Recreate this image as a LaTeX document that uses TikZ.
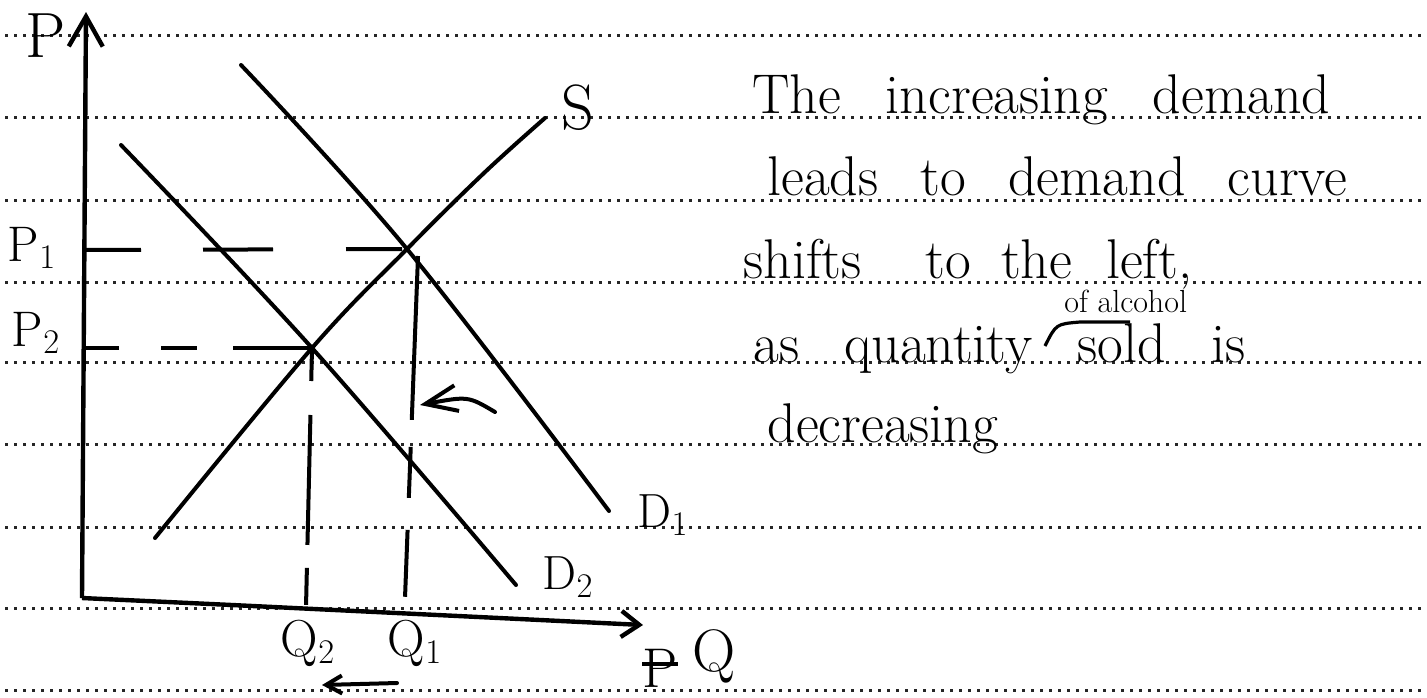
\documentclass[tikz,border=0pt]{standalone}
\usepackage{tikz}
\usetikzlibrary{positioning,arrows.meta}

\tikzset{
  ruled/.style={black!85, line width=1.5pt, dash pattern=on 1.5pt off 3pt},
  curve/.style={line width=2pt, line cap=round},
  guide/.style={line width=2pt},
  lab/.style={font=\fontsize{#1}{#1}\selectfont, inner sep=0pt},
  lab/.default=26,
  note/.style={font=\fontsize{28}{32}\selectfont, anchor=base west, inner sep=0pt},
}

\begin{document}
\begin{tikzpicture}[x=0.5pt, y=-0.5pt, >={Straight Barb[length=9pt,width=13pt]}, line join=round]
\useasboundingbox (0,0) rectangle (1427,697);

% Ruled paper
\foreach \y in {35,117,200,282,362,444,527,608,690}
  \draw[ruled] (5,\y) -- (1425,\y);

% Axes
\coordinate (O) at (82,598);
\coordinate (ptop) at (86,12);
\coordinate (qkink) at (232,605);
\coordinate (qend) at (643,625);
\draw[line width=2.2pt, ->, >={Straight Barb[length=15pt,width=17pt]}] (O) -- (ptop);
\draw[line width=2.2pt, ->] (O) -- (qkink) -- (qend);

% Equilibrium points
\coordinate (e1) at (407,249);
\coordinate (e2) at (312,348);

% Demand and supply curves
\coordinate (d1a) at (241,65);
\coordinate (d1b) at (609,511);
\coordinate (d2a) at (121,145);
\coordinate (d2b) at (516,585);
\coordinate (sa) at (155,538);
\coordinate (sm) at (484,173);
\coordinate (sb) at (545,118);
\draw[curve] plot[smooth, tension=0.6] coordinates {(d1a) (e1) (d1b)};
\draw[curve] plot[smooth, tension=0.6] coordinates {(d2a) (e2) (d2b)};
\draw[curve] plot[smooth, tension=0.6] coordinates {(sa) (e2) (e1) (sm) (sb)};

% Labels on the axes
\node[lab=32] (P) at (46,36) {P};
\node[lab=25] (P1) at (32,248) {P$_1$};
\node[lab=25] (P2) at (36,333) {P$_2$};
\node[lab=26] (Q2) at (308,643) {Q$_2$};
\node[lab=26] (Q1) at (415,643) {Q$_1$};
\node[lab=30] (Q) at (714,656) {Q};
\node[lab=28] (xP) at (660,668) {P};
\draw[line width=1.6pt] ([yshift=2pt]xP.west) -- ([yshift=2pt]xP.east);

% Curve labels
\node[lab=32] (S) at (578,108) {S};
\node[lab=24] (D1) at (663,515) {D$_1$};
\node[lab=24] (D2) at (568,577) {D$_2$};

% Dashed guides
\coordinate (p1ax) at (83,250);
\coordinate (p2ax) at (83,348);
\coordinate (q1top) at (418,256);
\coordinate (q1bot) at (405,598);
\coordinate (q2bot) at (306,607);
\draw[guide, dash pattern=on 29pt off 31pt on 35pt off 36.5pt on 28pt] (p1ax) -- (e1);
\draw[guide, dash pattern=on 18pt off 21pt on 18pt off 18pt on 40pt] (p2ax) -- (e2);
\draw[guide, dash pattern=on 82pt off 13.5pt on 25.5pt off 16pt on 33.5pt] (q1top) -- (q1bot);
\draw[guide, dash pattern=on 16.5pt off 17pt on 65pt off 11.5pt on 18.5pt] (e2) -- (q2bot);

% Shift arrows
\coordinate (sht) at (495,412);
\coordinate (shh) at (420,405);
\draw[curve, ->, >={Straight Barb[length=16pt,width=13pt]}] (sht) .. controls (468,396) .. (shh);
\coordinate (qs1) at (397,683);
\coordinate (qs2) at (322,685);
\draw[curve, ->, >={Straight Barb[length=8pt,width=9pt]}] (qs1) -- (qs2);

% Written explanation
\node[note] (t1) at (752,113) {\makebox[289pt][s]{The increasing demand}};
\node[note] (t2) at (767,195) {\makebox[290pt][s]{leads to demand curve}};
\node[note] (t3) at (743,278) {shifts\hspace{32pt}to\hspace{15pt}the\hspace{17pt}left,};
\node[note, font=\fontsize{16}{18}\selectfont] (t3b) at (1064,312) {of alcohol};
\node[note] (t4) at (753,362) {\makebox[246pt][s]{as quantity sold is}};
\node[note] (t5) at (767,442) {decreasing};

% Insertion mark
\coordinate (ins1) at (1045,346);
\coordinate (ins2) at (1080,322);
\coordinate (ins3) at (1130,322);
\draw[line width=1.6pt] (ins1) .. controls (1056,324) .. (ins2) -- (ins3);

\end{tikzpicture}
\end{document}
